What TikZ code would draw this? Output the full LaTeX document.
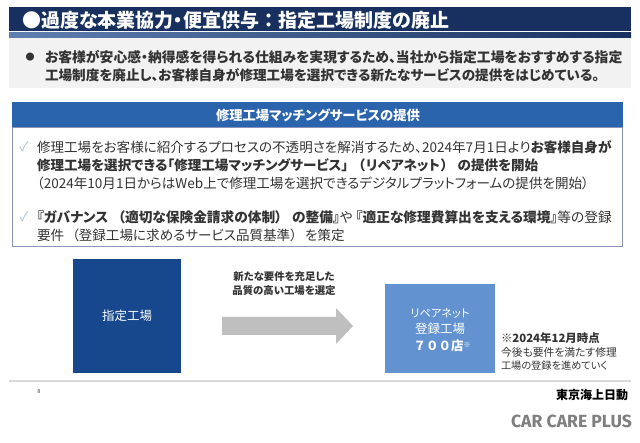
\documentclass[tikz,border=0pt]{standalone}
\usepackage{fontspec}
\setmainfont[RawFeature=+palt]{Noto Sans CJK JP}
\newfontfamily\fullwidthjp{Noto Sans CJK JP}
\definecolor{navy}{HTML}{17305F}
\definecolor{midblue}{HTML}{5F7FB0}
\definecolor{panel}{HTML}{F2F2F2}
\definecolor{headblue}{HTML}{2A64AD}
\definecolor{frameblue}{HTML}{8A93B8}
\definecolor{deepblue}{HTML}{17478C}
\definecolor{lightblue}{HTML}{6293D0}
\definecolor{arrowgrey}{HTML}{BFBFBF}
\definecolor{inkc}{HTML}{333333}
\definecolor{checkc}{HTML}{A9C4DE}
\definecolor{logoc}{HTML}{7F7F7F}
\newcommand{\fsz}[1]{\fontsize{#1pt}{#1pt}\selectfont}
\tikzset{
  every node/.style={inner sep=0pt,outer sep=0pt},
  bodyline/.style={anchor=west,text=inkc,font=\fsz{13.55}},
  leadline/.style={anchor=west,text=inkc,font=\fsz{13.8}\bfseries},
  notebody/.style={anchor=west,text=inkc,font=\fsz{10.8}},
  whitebox/.style={text=white,font=\fsz{12.5},align=center},
}
\begin{document}
\begin{tikzpicture}[x=1pt,y=-1pt]
\useasboundingbox (0,0) rectangle (640,443);
\fill[white] (0,0) rectangle (640,443);
% title band
\fill[navy] (9,7) rectangle (631,31);
\shade[left color=midblue,right color=navy] (9,33) rectangle (631,38);
\node[anchor=west,text=white,font=\fsz{19}\bfseries] (title) at (22,20) {●過度な本業協力・便宜供与\hspace{5pt}：\hspace{5pt}指定工場制度の廃止};
% grey summary
\fill[panel] (9,38) rectangle (631,88);
\node[anchor=center,text=inkc,font=\fsz{9}] (dot) at (30,57) {●};
\node[leadline] (sum1) at (45,57) {お客様が安心感・納得感を得られる仕組みを実現するため、当社から指定工場をおすすめする指定};
\node[leadline,font=\fsz{13.6}\bfseries] (sum2) at (45,75) {工場制度を廃止し、お客様自身が修理工場を選択できる新たなサービスの提供をはじめている。};
% service box
\draw[frameblue,line width=0.8pt] (12.5,127) rectangle (622,246.5);
\fill[headblue] (12,102) rectangle (623,127);
\node[text=white,font=\fsz{13.3}\bfseries] (head) at (318,115) {修理工場マッチングサービスの提供};
\node[text=checkc,font=\fsz{13}] (chk1) at (24,147) {✓};
\node[bodyline] (l1) at (37,147) {修理工場をお客様に紹介するプロセスの不透明さを解消するため、2024年7月1日より\textbf{お客様自身が}};
\node[bodyline] (l2) at (37,165) {\bfseries 修理工場を選択できる「修理工場マッチングサービス」\hspace{10pt}（\hspace{1pt}リペアネット\hspace{1pt}）\hspace{10pt}の提供を開始};
\node[bodyline] (l3) at (37,183) {（2024年10月1日からはWeb上で修理工場を選択できるデジタルプラットフォームの提供を開始）};
\node[text=checkc,font=\fsz{13}] (chk2) at (24,217) {✓};
\node[bodyline,font=\fsz{13.7}] (l4) at (37,217) {\textbf{『ガバナンス\hspace{10pt}（適切な保険金請求の体制）\hspace{10pt}の整備』}や\hspace{3pt}\textbf{『適正な修理費算出を支える環境』}等の登録};
\node[bodyline] (l5) at (37,235) {要件\hspace{8pt}（登録工場に求めるサービス品質基準）\hspace{8pt}を策定};
% bottom flow
\fill[deepblue] (73,259) rectangle (181,373);
\node[whitebox] (shitei) at (127,316) {指定工場};
\fill[arrowgrey] (222,317) -- (336,317) -- (336,308) -- (353,326) -- (336,344) -- (336,335) -- (222,335) -- cycle;
\node[text=inkc,font=\fsz{10.4}\bfseries,align=center] (arrowt1) at (284,277) {新たな要件を充足した};
\node[text=inkc,font=\fsz{10.4}\bfseries,align=center] (arrowt2) at (284,291) {品質の高い工場を選定};
\fill[lightblue] (385,284) rectangle (495,373);
\node[whitebox,font=\fsz{11.2}] (rep1) at (440,313) {リペアネット};
\node[whitebox] (rep2) at (440,329) {登録工場};
\node[whitebox,font=\fsz{12.5}\bfseries] (rep3) at (442,346) {{\fullwidthjp ７００}店\raisebox{3pt}{\fsz{7}\mdseries ※}};
\node[anchor=west,text=inkc,font=\fsz{11.4}\bfseries] (n1) at (501,338) {※2024年12月時点};
\node[notebody] (n2) at (501,352) {今後も要件を満たす修理};
\node[notebody,font=\fsz{10.2}] (n3) at (501,366) {工場の登録を進めていく};
% footer
\draw[black!15,line width=1.5pt] (9,381) -- (631,381);
\node[text=black!75,font=\fsz{5.5}] (page) at (39,392) {8};
\node[anchor=east,text=black,font=\fsz{12}\bfseries] (corp) at (628,395) {東京海上日動};
\node[anchor=east,text=logoc,font=\fontspec{Fira Sans Bold}\fsz{17.6}] (logo) at (632,421) {CAR CARE PLUS};
\end{tikzpicture}
\end{document}
